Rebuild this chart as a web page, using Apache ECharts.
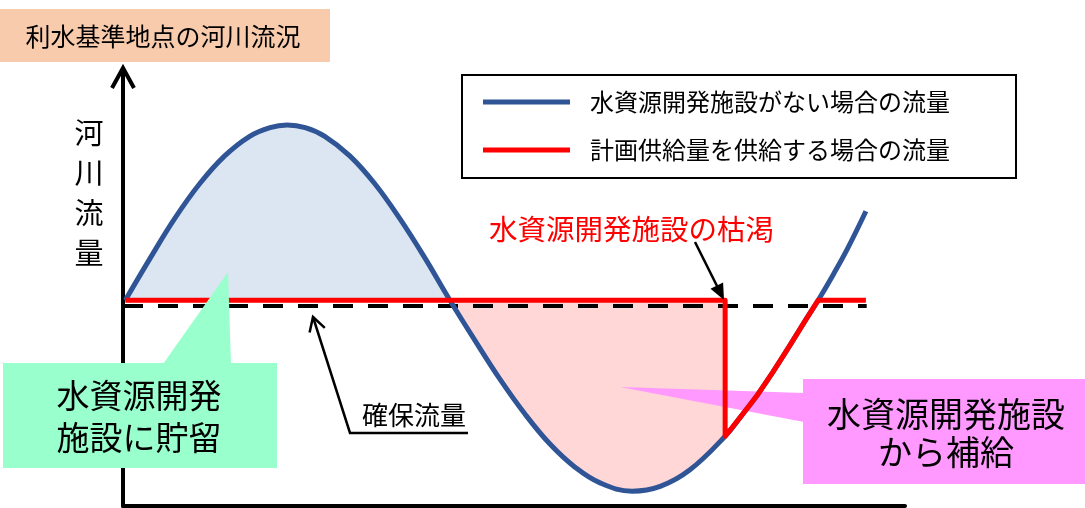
<!DOCTYPE html>
<html><head><meta charset="utf-8">
<script src="https://cdn.jsdelivr.net/npm/echarts@6/dist/echarts.min.js"></script>
<style>html,body{margin:0;padding:0;background:#fff}#c{width:1085px;height:508px}</style>
</head><body><div id="c"></div>
<script>
// natural river flow (no reservoir) — x: time, y: flow
const flowX = [0.3, 3.5, 6.6, 9.8, 13.0, 16.2, 18.8, 21.0, 23.3, 25.8, 29.0, 32.2, 35.4, 38.6, 41.8, 45.0, 48.2, 51.4, 54.6, 57.8, 61.0, 65.1, 68.7, 72.5, 77.0, 79.0, 81.1, 83.1, 85.3, 87.2, 88.9, 90.8, 92.7, 95.0];
const flowY = [47.2, 56.9, 65.9, 73.9, 80.3, 84.8, 86.8, 87.4, 86.8, 84.8, 80.3, 73.9, 65.9, 56.9, 47.2, 38.0, 29.1, 21.1, 14.2, 8.9, 5.3, 3.4, 4.5, 8.3, 16.0, 20.5, 25.4, 30.7, 36.9, 42.4, 47.2, 53.0, 59.2, 67.6];
// flow when the planned supply is delivered
const supplyX = [0.3, 77.0, 77.0, 79.0, 81.1, 83.1, 85.3, 87.2, 88.9, 95.0];
const supplyY = [47.2, 47.2, 16.0, 20.5, 25.4, 30.7, 36.9, 42.4, 47.2, 47.2];
// secured flow (dashed)
const securedX = [0, 95.1];
const securedY = [45.9, 45.9];
const supplyLevel = 47.2;
const storageRange = [0, 14];   // indices of flow above supply level
const deficitRange = [14, 24];  // indices until reservoir depletion
const seriesNames = ['水資源開発施設がない場合の流量', '計画供給量を供給する場合の流量'];
const titleText = '利水基準地点の河川流況';
const yAxisText = '河\n川\n流\n量';
const depletionText = '水資源開発施設の枯渇';
const securedText = '確保流量';
const storageText = '水資源開発\n施設に貯留';
const supplyText = '水資源開発施設\nから補給';

const FONT = '"Noto Sans CJK JP", "Noto Sans CJK SC", sans-serif';
const pairs = (xs, ys) => xs.map((x, i) => [x, ys[i]]);
const flow = pairs(flowX, flowY);
const chart = echarts.init(document.getElementById('c'), null, {renderer: 'canvas'});

chart.setOption({
  animation: false,
  backgroundColor: '#fff',
  grid: {left: 123, right: 180, top: 70, bottom: 2},
  xAxis: {type: 'value', min: 0, max: 100, axisLine: {show: true, onZero: false, lineStyle: {color: '#000', width: 4}},
          axisTick: {show: false}, axisLabel: {show: false}, splitLine: {show: false}},
  yAxis: {type: 'value', min: 0, max: 100, axisLine: {show: true, onZero: false, lineStyle: {color: '#000', width: 4}},
          axisTick: {show: false}, axisLabel: {show: false}, splitLine: {show: false}},
  legend: {
    data: seriesNames, orient: 'vertical', left: 462, top: 75, icon: 'rect', itemWidth: 87, itemHeight: 5,
    itemGap: 18, padding: [12, 66, 13, 21], borderColor: '#000', borderWidth: 2, backgroundColor: '#fff',
    selectedMode: false,
    textStyle: {fontSize: 24, color: '#000', fontFamily: FONT, lineHeight: 30, padding: [0, 0, 0, 15]}
  },
  series: [
    {type: 'line', name: 'storage', z: 1, smooth: 0.4, showSymbol: false, silent: true,
     data: flow.slice(storageRange[0], storageRange[1] + 1), lineStyle: {width: 0},
     areaStyle: {color: '#dce6f2', opacity: 1, origin: supplyLevel}},
    {type: 'line', name: 'deficit', z: 1, smooth: 0.4, showSymbol: false, silent: true,
     data: flow.slice(deficitRange[0], deficitRange[1] + 1), lineStyle: {width: 0},
     areaStyle: {color: '#ffd7d7', opacity: 1, origin: supplyLevel}},
    {type: 'line', name: 'secured', z: 3, showSymbol: false, silent: true, data: pairs(securedX, securedY),
     lineStyle: {color: '#000', width: 4, type: [20, 15]}},
    {type: 'line', name: seriesNames[0], z: 4, smooth: 0.4, showSymbol: false, color: '#2f5597',
     data: flow, lineStyle: {color: '#2f5597', width: 5}},
    {type: 'line', name: seriesNames[1], z: 5, showSymbol: false, color: '#ff0000',
     data: pairs(supplyX, supplyY), lineStyle: {color: '#ff0000', width: 5, join: 'round'}}
  ]
});

// annotations
chart.setOption({
  graphic: [
    {type: 'rect', z: 50, shape: {x: 0, y: 9, width: 330, height: 53}, style: {fill: '#f8cbad'}},
    {type: 'text', z: 51, x: 163, y: 36, style: {text: titleText, fontSize: 25, fontFamily: FONT, fill: '#000', align: 'center', verticalAlign: 'middle'}},
    {type: 'polyline', z: 50, shape: {points: [[112, 88], [123, 68], [134, 88]]}, style: {stroke: '#000', lineWidth: 4, fill: null}},
    {type: 'text', z: 51, x: 89, y: 193, style: {text: yAxisText, fontSize: 29, lineHeight: 40, fontFamily: FONT, fill: '#000', align: 'center', verticalAlign: 'middle'}},
    {type: 'text', z: 51, x: 489, y: 229, style: {text: depletionText, fontSize: 28.5, fontFamily: FONT, fill: '#ff0000', align: 'left', verticalAlign: 'middle'}},
    {type: 'line', z: 50, shape: {x1: 695, y1: 242, x2: 718, y2: 288}, style: {stroke: '#000', lineWidth: 2.5}},
    {type: 'polygon', z: 50, shape: {points: [[724, 300], [710.5, 288.8], [723.1, 282.6]]}, style: {fill: '#000'}},
    {type: 'polyline', z: 50, shape: {points: [[313, 317], [350, 433], [468, 433]]}, style: {stroke: '#000', lineWidth: 2.5, fill: null}},
    {type: 'polyline', z: 50, shape: {points: [[309.6, 332.6], [313, 317], [324.8, 327.8]]}, style: {stroke: '#000', lineWidth: 2.5, fill: null}},
    {type: 'text', z: 51, x: 414, y: 415, style: {text: securedText, fontSize: 26, fontFamily: FONT, fill: '#000', align: 'center', verticalAlign: 'middle'}},
    {type: 'polygon', z: 50, shape: {points: [[163, 364], [228, 272], [231, 364]]}, style: {fill: '#99ffcc'}},
    {type: 'rect', z: 50, shape: {x: 3, y: 363, width: 274, height: 105}, style: {fill: '#99ffcc'}},
    {type: 'text', z: 51, x: 139, y: 416, style: {text: storageText, fontSize: 33, lineHeight: 42, fontFamily: FONT, fill: '#000', align: 'center', verticalAlign: 'middle'}},
    {type: 'polygon', z: 2, shape: {points: [[620, 387], [804, 393], [804, 422]]}, style: {fill: '#ff99ff'}},
    {type: 'rect', z: 50, shape: {x: 803, y: 379, width: 282, height: 105}, style: {fill: '#ff99ff'}},
    {type: 'text', z: 51, x: 946, y: 433, style: {text: supplyText, fontSize: 34, lineHeight: 38, fontFamily: FONT, fill: '#000', align: 'center', verticalAlign: 'middle'}}
  ]
});
</script></body></html>
